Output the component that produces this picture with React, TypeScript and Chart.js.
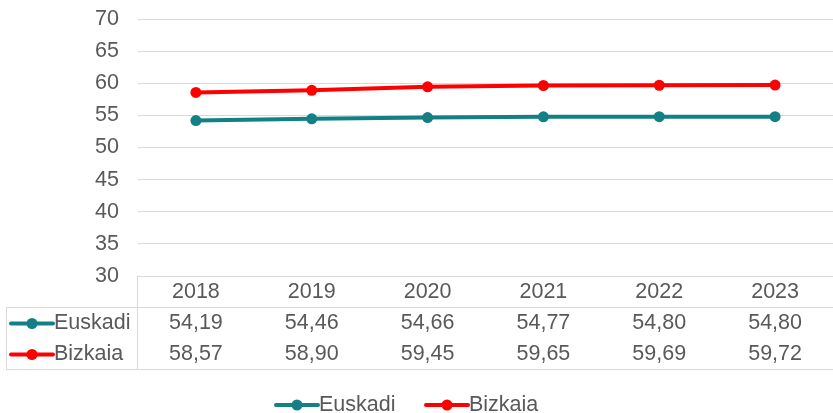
import React, { useEffect, useRef } from 'react';
import { Chart, registerables } from 'chart.js';
Chart.register(...registerables);

const years = ['2018', '2019', '2020', '2021', '2022', '2023'];
const euskadi = [54.19, 54.46, 54.66, 54.77, 54.8, 54.8];
const bizkaia = [58.57, 58.9, 59.45, 59.65, 59.69, 59.72];
const seriesNames = ['Euskadi', 'Bizkaia'];
const seriesColors = ['#138086', '#FF0000'];
const yMin = 30;
const yMax = 70;
const yStep = 5;

const FONT = '"Liberation Sans", Arial, sans-serif';
const FS = 21.5;
const TEXT = '#595959';
const GRID = '#D9D9D9';

const fmt = (v: number) => v.toFixed(2).replace('.', ',');

function drawSymbol(ctx: CanvasRenderingContext2D, x: number, y: number, color: string) {
  ctx.save();
  ctx.strokeStyle = color;
  ctx.fillStyle = color;
  ctx.lineWidth = 4;
  ctx.lineCap = 'round';
  ctx.beginPath();
  ctx.moveTo(x, y);
  ctx.lineTo(x + 42, y);
  ctx.stroke();
  ctx.beginPath();
  ctx.arc(x + 21, y, 5.5, 0, Math.PI * 2);
  ctx.fill();
  ctx.restore();
}

const tablePlugin = {
  id: 'dataTable',
  afterDraw(chart: any) {
    const ctx: CanvasRenderingContext2D = chart.ctx;
    const { left, bottom } = chart.chartArea;
    const xs = chart.scales.x;
    const W = chart.width;
    const rowH = 31;
    const r1 = bottom + rowH;
    const r3 = bottom + rowH * 3;
    ctx.save();
    ctx.strokeStyle = GRID;
    ctx.lineWidth = 1;
    ctx.beginPath();
    ctx.moveTo(left, bottom + 0.5);
    ctx.lineTo(W, bottom + 0.5);
    ctx.moveTo(6, r1 + 0.5);
    ctx.lineTo(W, r1 + 0.5);
    ctx.moveTo(6, r3 + 0.5);
    ctx.lineTo(W, r3 + 0.5);
    ctx.moveTo(left - 0.5, bottom);
    ctx.lineTo(left - 0.5, r3 + 1);
    ctx.moveTo(6.5, r1);
    ctx.lineTo(6.5, r3 + 1);
    ctx.stroke();

    ctx.font = FS + 'px ' + FONT;
    ctx.fillStyle = TEXT;
    ctx.textBaseline = 'middle';
    ctx.textAlign = 'center';
    const rowsY = [bottom + rowH / 2 + 1, r1 + rowH / 2 + 1, r1 + rowH * 1.5 + 1];
    years.forEach((y, i) => {
      ctx.fillText(y, xs.getPixelForValue(i), rowsY[0]);
    });
    const series = [euskadi, bizkaia];
    series.forEach((s, si) => {
      s.forEach((v, i) => {
        ctx.fillText(fmt(v), xs.getPixelForValue(i), rowsY[si + 1]);
      });
    });
    ctx.textAlign = 'left';
    seriesNames.forEach((n, si) => {
      drawSymbol(ctx, 11, rowsY[si + 1], seriesColors[si]);
      ctx.fillStyle = TEXT;
      ctx.fillText(n, 54, rowsY[si + 1]);
    });

    // legend
    const ly = 405;
    const lx = [276, 426];
    seriesNames.forEach((n, si) => {
      drawSymbol(ctx, lx[si], ly, seriesColors[si]);
      ctx.fillStyle = TEXT;
      ctx.fillText(n, lx[si] + 43, ly);
    });
    ctx.restore();
  },
};

export default function App() {
  const ref = useRef<HTMLCanvasElement>(null);
  useEffect(() => {
    document.body.style.margin = '0';
    const mk = (i: number, data: number[]) => ({
      label: seriesNames[i],
      data,
      borderColor: seriesColors[i],
      backgroundColor: seriesColors[i],
      borderWidth: 4,
      pointRadius: 5.5,
      pointHoverRadius: 5.5,
      pointBorderWidth: 0,
      tension: 0,
    });
    const chart = new Chart(ref.current!, {
      type: 'line',
      data: {
        labels: years,
        datasets: [mk(0, euskadi), mk(1, bizkaia)],
      },
      options: {
        responsive: false,
        animation: false,
        layout: { autoPadding: false, padding: { top: 19, bottom: 137, left: 0, right: 0 } },
        plugins: { legend: { display: false }, tooltip: { enabled: false } },
        scales: {
          x: {
            display: false,
            offset: true,
          },
          y: {
            min: yMin,
            max: yMax,
            afterFit: (s: any) => {
              s.width = 138;
              s.paddingTop = 0;
              s.paddingBottom = 0;
            },
            ticks: {
              stepSize: yStep,
              padding: 19,
              color: TEXT,
              font: { family: FONT, size: FS },
            },
            border: { display: false },
            grid: { color: GRID, lineWidth: 1, drawTicks: false },
          },
        },
      },
      plugins: [tablePlugin],
    });
    return () => chart.destroy();
  }, []);
  return (
    <div style={{ width: 833, height: 413 }}>
      <canvas ref={ref} width={833} height={413} />
    </div>
  );
}
